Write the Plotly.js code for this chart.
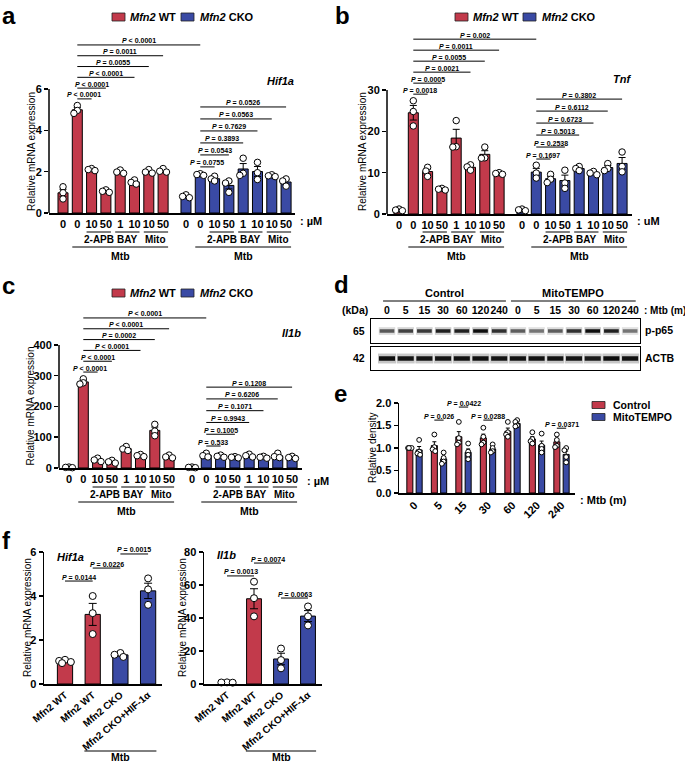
<!DOCTYPE html>
<html>
<head>
<meta charset="utf-8">
<script src="https://cdn.plot.ly/plotly-3.0.1.min.js"></script>
<style>
html,body{margin:0;padding:0;background:#ffffff;}
#chart{width:685px;height:764px;}
</style>
</head>
<body>
<div id="chart"></div>
<script>
// ======================= DATA =======================
const doseLabels = ['0', '0', '10', '50', '1', '10', '10', '50'];
const drugGroups = [[2, 3, '2-APB'], [4, 5, 'BAY'], [6, 7, 'Mito']];
const genotypeNames = ['<i>Mfn2</i> WT', '<i>Mfn2</i> CKO'];

// a: Hif1a (three replicates per condition)
const hif1aWT = [[1.27, 0.98, 0.68], [5.2, 4.96, 4.82], [2.15, 2.1, 2.05], [1.12, 1.05, 1.0],
                 [2.08, 1.98, 1.92], [1.6, 1.48, 1.4], [2.1, 1.98, 1.93], [2.15, 2.02, 1.98]];
const hif1aCKO = [[0.88, 0.8, 0.74], [1.9, 1.86, 1.82], [1.78, 1.65, 1.55], [1.55, 1.45, 1.0],
                  [2.65, 1.92, 1.82], [2.45, 1.95, 1.62], [1.85, 1.8, 1.76], [1.65, 1.55, 1.3]];
const hif1aPWT = [[1, 2, 'P < 0.0001'], [1, 3, 'P < 0.0001'], [1, 5, 'P < 0.0001'],
                  [1, 6, 'P = 0.0055'], [1, 7, 'P = 0.0011'], [1, 9, 'P < 0.0001']];
const hif1aPCKO = [[9, 10, 'P = 0.0755'], [9, 11, 'P = 0.0543'], [9, 12, 'P = 0.3893'],
                   [9, 13, 'P = 0.7629'], [9, 14, 'P = 0.0563'], [9, 15, 'P = 0.0526']];

// b: Tnf
const tnfWT = [[1.2, 0.95, 0.8], [27.4, 24.8, 21.3], [11.3, 10.4, 9.1], [6.2, 6.0, 5.8],
               [22.6, 16.3, 16.2], [11.9, 11.4, 10.6], [16.2, 13.6, 13.5], [10.0, 9.8, 9.6]];
const tnfCKO = [[1.2, 1.0, 0.8], [11.8, 9.9, 8.7], [9.6, 8.4, 7.6], [10.6, 7.5, 6.2],
                [11.5, 11.0, 10.5], [10.3, 9.9, 9.5], [12.2, 11.0, 10.5], [15.0, 11.5, 10.2]];
const tnfPWT = [[1, 2, 'P = 0.0018'], [1, 3, 'P = 0.0005'], [1, 5, 'P = 0.0021'],
                [1, 6, 'P = 0.0055'], [1, 7, 'P = 0.0011'], [1, 9, 'P = 0.002']];
const tnfPCKO = [[9, 10, 'P = 0.1697'], [9, 11, 'P = 0.2538'], [9, 12, 'P = 0.5013'],
                 [9, 13, 'P = 0.6723'], [9, 14, 'P = 0.6112'], [9, 15, 'P = 0.3802']];

// c: Il1b
const il1bWT = [[3, 2, 1], [290, 277, 273], [32, 26, 21], [25, 20, 16],
                [70, 62, 57], [44, 40, 37], [142, 120, 105], [42, 36, 33]];
const il1bCKO = [[3, 2, 1], [48, 40, 36], [42, 38, 35], [37, 35, 33],
                 [45, 40, 36], [38, 35, 32], [48, 37, 34], [38, 34, 31]];
const il1bPWT = [[1, 2, 'P < 0.0001'], [1, 3, 'P < 0.0001'], [1, 5, 'P < 0.0001'],
                 [1, 6, 'P = 0.0002'], [1, 7, 'P < 0.0001'], [1, 9, 'P < 0.0001']];
const il1bPCKO = [[9, 10, 'P = 0.533'], [9, 11, 'P = 0.1005'], [9, 12, 'P = 0.9943'],
                  [9, 13, 'P = 0.1071'], [9, 14, 'P = 0.6206'], [9, 15, 'P = 0.1208']];

// d: western blot (relative band darkness per lane)
const blotTimes = ['0', '5', '15', '30', '60', '120', '240'];
const blotTreatments = ['Control', 'MitoTEMPO'];
const pp65Band = [0.62, 0.72, 0.76, 0.88, 0.88, 0.97, 0.8, 0.6, 0.5, 0.6, 0.8, 0.97, 0.88, 0.5];
const actbBand = [0.97, 0.93, 0.93, 0.93, 0.95, 0.95, 0.93, 0.95, 0.95, 0.95, 0.93, 0.9, 0.97, 0.95];

// e: relative density of p-p65 (four replicates)
const densityControl = [[1.0, 1.0, 1.0, 1.0], [1.3, 1.02, 0.97, 0.93], [1.58, 1.22, 1.12, 1.08],
                        [1.45, 1.25, 1.12, 1.08], [1.58, 1.35, 1.3, 1.25], [1.35, 1.2, 1.15, 1.1],
                        [1.3, 1.18, 1.05, 1.02]];
const densityMito = [[1.18, 0.92, 0.88, 0.85], [0.9, 0.78, 0.7, 0.65], [1.1, 0.92, 0.85, 0.75],
                     [1.08, 1.0, 0.93, 0.9], [1.62, 1.58, 1.5, 1.48], [1.32, 1.05, 0.98, 0.9],
                     [1.0, 0.95, 0.8, 0.68]];
const densityP = [[1, 'P = 0.026'], [2, 'P = 0.0422'], [3, 'P = 0.0288'], [6, 'P = 0.0371']];

// f
const fGroups = ['Mfn2 WT', 'Mfn2 WT', 'Mfn2 CKO', 'Mfn2 CKO+HIF-1α'];
const fGenotype = ['WT', 'WT', 'CKO', 'CKO'];
const fHif1a = [[1.1, 1.05, 1.0, 0.95], [4.0, 3.22, 2.27], [1.41, 1.33, 1.23], [4.8, 4.3, 3.6]];
const fIl1b = [[1.0, 0.9, 0.8], [62, 52, 41], [21.5, 14.5, 9.5], [47, 41, 35.5]];
const fHif1aP = [[0, 1, 'P = 0.0144'], [1, 2, 'P = 0.0226'], [2, 3, 'P = 0.0015']];
const fIl1bP = [[0, 1, 'P = 0.0013'], [1, 2, 'P = 0.0074'], [2, 3, 'P = 0.0063']];

// ======================= LAYOUT CONSTANTS =======================
const W = 685, H = 764;
const FONT = 'Arial, "Liberation Sans", Helvetica, sans-serif';
const RED = '#C23A4B', BLUE = '#3A4AA4';
const PX = p => p / W, PY = p => 1 - p / H;
const pos = [0, 1, 2, 3, 4, 5, 6, 7, 8.6, 9.6, 10.6, 11.6, 12.6, 13.6, 14.6, 15.6];

const GEO = {
  a: {xd: [49, 295], x0: 63, xppu: 14.3, y0: 213, yppu: 20.67, ytop: 8.4},
  b: {xd: [387, 632], x0: 399, xppu: 14.3, y0: 214, yppu: 4.133, ytop: 43},
  c: {xd: [59, 302], x0: 69, xppu: 14.3, y0: 468, yppu: 0.3075, ytop: 495},
  d: {xd: [371, 640], x0: 387, xppu: 18.7},
  e: {xd: [399, 575], x0: 414.5, xppu: 24.5, y0: 493, yppu: 45, ytop: 2.0},
  f1: {xd: [44, 162], x0: 65, xppu: 27.7, y0: 684, yppu: 22, ytop: 6},
  f2: {xd: [204, 322], x0: 227, xppu: 27, y0: 684, yppu: 1.65, ytop: 80}
};
const LEVELS = {
  a: {wt: [5.52, 0.522], cko: [2.23, 0.58]},
  b: {wt: [29.0, 2.66], cko: [13.3, 2.9]},
  c: {wt: [312, 35.2], cko: [71.5, 38.3]}
};
const E_LEVELS = [1.62, 1.91, 1.62, 1.44];
const F1_LEVELS = [4.68, 5.27, 5.91];
const F2_LEVELS = [65.5, 73.3, 52.1];

// ======================= HELPERS =======================
const traces = [];
const layout = {
  width: W, height: H, margin: {l: 0, r: 0, t: 0, b: 0},
  paper_bgcolor: '#ffffff', plot_bgcolor: 'rgba(0,0,0,0)',
  showlegend: false, barmode: 'overlay',
  font: {family: FONT, size: 11, color: '#000'},
  annotations: [], shapes: []
};
const ann = layout.annotations, shp = layout.shapes;
const B = (size, extra) => Object.assign({family: FONT, size: size, weight: 700, color: '#000'}, extra || {});

function mean(a) { return a.reduce((s, v) => s + v, 0) / a.length; }
function sem(a) {
  const m = mean(a);
  const sd = Math.sqrt(a.reduce((s, v) => s + (v - m) * (v - m), 0) / (a.length - 1));
  return sd / Math.sqrt(a.length);
}
function pLabel(s) { return s.replace('<', '&lt;').replace('P', '<i>P</i>'); }
function txt(o) { ann.push(Object.assign({showarrow: false, xanchor: 'center', yanchor: 'middle', xref: 'paper', yref: 'paper', font: B(11)}, o)); }
function hline(xref, x0, x1, ypx, w) {
  shp.push({type: 'line', xref: xref, yref: 'paper', x0: x0, x1: x1, y0: PY(ypx), y1: PY(ypx), line: {color: '#000', width: w || 1}});
}

let axN = 0;
function makeAxes(g, xo, yo) {
  axN++;
  const s = axN === 1 ? '' : String(axN);
  const xid = 'x' + s, yid = 'y' + s;
  const base = {showgrid: false, zeroline: false, showline: true, linecolor: '#000', linewidth: 1.5,
    fixedrange: true, tickcolor: '#000', tickfont: B(11)};
  layout['xaxis' + s] = Object.assign({}, base, {
    domain: [PX(g.xd[0]), PX(g.xd[1])],
    range: [(g.xd[0] - g.x0) / g.xppu, (g.xd[1] - g.x0) / g.xppu],
    anchor: yid, ticks: ''}, xo);
  const yd = g.yd ? g.yd : [g.y0 - g.ytop * g.yppu, g.y0];
  layout['yaxis' + s] = Object.assign({}, base, {
    domain: [PY(yd[1]), PY(yd[0])], range: g.yr ? g.yr : [0, g.ytop],
    anchor: xid, ticks: 'outside', ticklen: 4, tickwidth: 1.5}, yo);
  return {x: xid, y: yid, g: g};
}

// spread overlapping replicate points sideways, kept within the bar
function swarmX(xc, vals, g, size, barW) {
  const placed = [], res = new Array(vals.length);
  const order = vals.map((v, i) => i).sort((a, b) => vals[b] - vals[a]);
  const maxOff = Math.max(barW * g.xppu / 2 - size * 0.25, 1);
  const step = Math.min(size * 0.75, maxOff / 2), minD = size * 0.6;
  const cands = [0, -1, 1, -2, 2].map(c => c * step);
  order.forEach(i => {
    const ypx = vals[i] * g.yppu;
    let chosen = null, best = -1, bestX = 0;
    for (const xpx of cands) {
      const d = placed.length ? Math.min.apply(null, placed.map(p => Math.hypot(p[0] - xpx, p[1] - ypx))) : 1e9;
      if (d >= minD) { chosen = xpx; break; }
      if (d > best) { best = d; bestX = xpx; }
    }
    if (chosen === null) chosen = bestX;
    placed.push([chosen, ypx]);
    res[i] = xc + chosen / g.xppu;
  });
  return res;
}

function addBars(ax, xs, pts, color, w, psize, cap) {
  traces.push({type: 'bar', x: xs, y: pts.map(mean), width: w, offset: -w / 2, xaxis: ax.x, yaxis: ax.y,
    marker: {color: color, line: {color: '#000', width: 1}},
    error_y: {type: 'data', array: pts.map(sem), symmetric: true, visible: true, color: '#000', thickness: 1, width: cap},
    hoverinfo: 'skip', showlegend: false});
  const px = [], py = [];
  pts.forEach((p, i) => {
    const sx = swarmX(xs[i], p, ax.g, psize, w);
    p.forEach((v, j) => { px.push(sx[j]); py.push(v); });
  });
  traces.push({type: 'scatter', mode: 'markers', x: px, y: py, xaxis: ax.x, yaxis: ax.y, cliponaxis: false,
    marker: {symbol: 'circle', size: psize, color: '#fff', line: {color: '#000', width: 1}},
    hoverinfo: 'skip', showlegend: false});
}

// items: [x0, x1, level, label]
function addBrackets(ax, items, fsize) {
  const x = [], y = [];
  items.forEach(it => { x.push(it[0], it[1], null); y.push(it[2], it[2], null); });
  traces.push({type: 'scatter', mode: 'lines', x: x, y: y, xaxis: ax.x, yaxis: ax.y,
    line: {color: '#000', width: 1}, hoverinfo: 'skip', showlegend: false, connectgaps: false});
  items.forEach(it => ann.push({xref: ax.x, yref: ax.y, x: (it[0] + it[1]) / 2, y: it[2], text: pLabel(it[3]),
    showarrow: false, xanchor: 'center', yanchor: 'bottom', yshift: -1.5, font: B(fsize)}));
}

function legendItem(xBox, yc, w, h, color, text, textX, fsize) {
  shp.push({type: 'rect', xref: 'paper', yref: 'paper', x0: PX(xBox), x1: PX(xBox + w),
    y0: PY(yc + h / 2), y1: PY(yc - h / 2), fillcolor: color, line: {color: '#222', width: 0.8}});
  txt({x: PX(textX), y: PY(yc), xanchor: 'left', text: text, font: B(fsize)});
}

// ======================= PANELS a, b, c =======================
function genePanel(key, wt, cko, pWT, pCKO, yticks, gene, unit, R) {
  const g = GEO[key];
  const ax = makeAxes(g, {tickvals: pos, ticktext: doseLabels.concat(doseLabels), tickangle: 0},
                         {showline: false, tickvals: yticks});
  addBars(ax, pos.slice(0, 8), wt, RED, 0.7, 6.5, 3.5);
  addBars(ax, pos.slice(8), cko, BLUE, 0.7, 6.5, 3.5);
  const ymax = yticks[yticks.length - 1];
  shp.push({type: 'line', xref: ax.x + ' domain', yref: ax.y, x0: 0, x1: 0, y0: 0, y1: ymax, line: {color: '#000', width: 1.5}});
  const L = LEVELS[key];
  addBrackets(ax, pWT.map((b, i) => [pos[b[0]], pos[b[1]], L.wt[0] + i * L.wt[1], b[2]]), 7);
  addBrackets(ax, pCKO.map((b, i) => [pos[b[0]], pos[b[1]], L.cko[0] + i * L.cko[1], b[2]]), 7);
  txt({x: PX(g.xd[1] + 1), y: PY(R.gene), xanchor: 'right', text: '<i>' + gene + '</i>', font: B(11)});
  txt({x: PX(g.xd[1] + 3), y: PY(R.tick), xanchor: 'left', text: unit, font: B(11)});
  [0, 8].forEach(s => {
    drugGroups.forEach(dg => {
      hline(ax.x, pos[s + dg[0]] - 0.35, pos[s + dg[1]] + 0.35, R.small, 1);
      txt({xref: ax.x, x: (pos[s + dg[0]] + pos[s + dg[1]]) / 2, y: PY(R.lab), text: dg[2], font: B(10)});
    });
    hline(ax.x, pos[s + 1] - 0.35, pos[s + 7] + 0.35, R.mtbLine, 1);
    txt({xref: ax.x, x: (pos[s + 1] + pos[s + 7]) / 2, y: PY(R.mtbText), text: 'Mtb', font: B(10.5)});
  });
  txt({yref: ax.y, x: PX(R.titleX), y: ymax / 2, textangle: -90, text: 'Relative mRNA expression',
       font: {family: FONT, size: 10, color: '#000'}});
  legendItem(R.leg[0], R.legY, 13, 8, RED, genotypeNames[0], R.leg[0] + 16, 11);
  legendItem(R.leg[1], R.legY, 13, 8, BLUE, genotypeNames[1], R.leg[1] + 17, 11);
}

genePanel('a', hif1aWT, hif1aCKO, hif1aPWT, hif1aPCKO, [0, 2, 4, 6], 'Hif1a', ': µM',
  {tick: 221, small: 232, lab: 239, mtbLine: 247, mtbText: 256, gene: 81, titleX: 32, leg: [112, 181], legY: 17});
genePanel('b', tnfWT, tnfCKO, tnfPWT, tnfPCKO, [0, 10, 20, 30], 'Tnf', ': uM',
  {tick: 221, small: 232, lab: 239, mtbLine: 247, mtbText: 256, gene: 79, titleX: 362, leg: [455, 523], legY: 17});
genePanel('c', il1bWT, il1bCKO, il1bPWT, il1bPCKO, [0, 100, 200, 300, 400], 'Il1b', ': µM',
  {tick: 481, small: 487, lab: 494, mtbLine: 502, mtbText: 511, gene: 333, titleX: 30, leg: [112, 181], legY: 293});

// ======================= PANEL d (blot) =======================
function addBands(ax, inten, len, thick) {
  const lanes = inten.map((_, i) => i);
  const zero = lanes.map(() => 0);
  traces.push({type: 'scatter', mode: 'markers', x: lanes, y: zero, xaxis: ax.x, yaxis: ax.y, hoverinfo: 'skip', showlegend: false,
    marker: {symbol: 'line-ew', size: len * 1.12, color: 'rgba(0,0,0,0)',
      line: {width: thick * 2.2, color: inten.map(v => 'rgba(60,60,60,' + (0.3 * v).toFixed(3) + ')')}}});
  traces.push({type: 'scatter', mode: 'markers', x: lanes, y: zero, xaxis: ax.x, yaxis: ax.y, hoverinfo: 'skip', showlegend: false,
    marker: {symbol: 'line-ew', size: len, color: 'rgba(0,0,0,0)',
      line: {width: thick, color: inten.map(v => 'rgba(8,8,8,' + v.toFixed(3) + ')')}}});
}
const lanes = pp65Band.map((_, i) => i);
const gD1 = {xd: GEO.d.xd, x0: GEO.d.x0, xppu: GEO.d.xppu, yd: [319, 343], yr: [-1, 1]};
const gD2 = {xd: GEO.d.xd, x0: GEO.d.x0, xppu: GEO.d.xppu, yd: [347, 370], yr: [-1, 1]};
const axD1 = makeAxes(gD1, {side: 'top', mirror: true, linewidth: 1.2, tickvals: lanes, tickangle: 0,
  ticktext: blotTimes.concat(blotTimes), tickfont: B(10.5)}, {mirror: true, linewidth: 1.2, ticks: '', showticklabels: false});
const axD2 = makeAxes(gD2, {mirror: true, linewidth: 1.2, showticklabels: false},
  {mirror: true, linewidth: 1.2, ticks: '', showticklabels: false});
addBands(axD1, pp65Band, 10.5, 3.5);
addBands(axD2, actbBand, 11.5, 4.5);
hline(axD1.x, -0.21, 6.36, 301, 1);
hline(axD1.x, 6.63, 13.3, 301, 1);
txt({xref: axD1.x, x: 3.07, y: PY(293), text: blotTreatments[0], font: B(11)});
txt({xref: axD1.x, x: 9.97, y: PY(293), text: blotTreatments[1], font: B(11)});
txt({x: PX(355), y: PY(310), text: '(kDa)', font: B(10.5)});
txt({x: PX(642), y: PY(310), xanchor: 'left', text: ': Mtb (m)', font: B(10)});
txt({x: PX(367), y: PY(331), xanchor: 'right', text: '65', font: B(10.5)});
txt({x: PX(367), y: PY(358), xanchor: 'right', text: '42', font: B(10.5)});
txt({x: PX(643), y: PY(330), xanchor: 'left', text: 'p-p65', font: B(10.5)});
txt({x: PX(643), y: PY(358), xanchor: 'left', text: 'ACTB', font: B(10.5)});

// ======================= PANEL e =======================
const eIdx = blotTimes.map((_, i) => i);
const axE = makeAxes(GEO.e, {tickvals: eIdx, ticktext: blotTimes, tickangle: -45},
  {tickvals: [0, 0.5, 1, 1.5, 2], ticktext: ['0.0', '0.5', '1.0', '1.5', '2.0']});
addBars(axE, eIdx.map(i => i - 0.19), densityControl, RED, 0.245, 4.8, 2);
addBars(axE, eIdx.map(i => i + 0.19), densityMito, BLUE, 0.245, 4.8, 2);
addBrackets(axE, densityP.map((d, i) => [d[0] - 0.19, d[0] + 0.19, E_LEVELS[i], d[1]]), 7);
txt({x: PX(578), y: PY(500), xanchor: 'left', text: ': Mtb (m)', font: B(11)});
txt({yref: axE.y, x: PX(372), y: 1.0, textangle: -90, text: 'Relative density', font: {family: FONT, size: 10, color: '#000'}});
legendItem(592, 405, 13, 7, RED, blotTreatments[0], 611, 10.5);
legendItem(592, 417, 13, 7, BLUE, blotTreatments[1], 611, 10.5);

// ======================= PANEL f =======================
function fPanel(key, vals, pl, levels, yticks, gene, titleX, geneX, geneY) {
  const g = GEO[key];
  const xs = vals.map((_, i) => i);
  const ax = makeAxes(g, {tickvals: xs, ticktext: fGroups, tickangle: -40, tickfont: B(10)}, {tickvals: yticks});
  addBars(ax, xs, vals, fGenotype.map(t => t === 'WT' ? RED : BLUE), 0.55, 7, 4);
  addBrackets(ax, pl.map((b, i) => [b[0], b[1], levels[i], b[2]]), 7);
  txt({x: PX(geneX), y: PY(geneY), xanchor: 'left', text: '<i>' + gene + '</i>', font: B(11)});
  hline(ax.x, 0.7, 3.3, 751, 1);
  txt({xref: ax.x, x: 2.0, y: PY(757), text: 'Mtb', font: B(10.5)});
  txt({yref: ax.y, x: PX(titleX), y: yticks[yticks.length - 1] / 2, textangle: -90, text: 'Relative mRNA expression',
       font: {family: FONT, size: 10, color: '#000'}});
}
fPanel('f1', fHif1a, fHif1aP, F1_LEVELS, [0, 2, 4, 6], 'Hif1a', 27, 55, 557);
fPanel('f2', fIl1b, fIl1bP, F2_LEVELS, [0, 20, 40, 60, 80], 'Il1b', 182, 215, 555);

// ======================= PANEL LETTERS =======================
[['a', 0, 0, 'top'], ['b', 333, 0, 'top'], ['c', 0, 285, 'middle'], ['d', 332, 284, 'middle'],
 ['e', 332, 394, 'middle'], ['f', 0, 540, 'middle']].forEach(l => {
  txt({x: PX(l[1]), y: PY(l[2]), xanchor: 'left', yanchor: l[3], text: l[0], font: B(24)});
});

Plotly.newPlot('chart', traces, layout, {staticPlot: true, displayModeBar: false});
</script>
</body>
</html>
